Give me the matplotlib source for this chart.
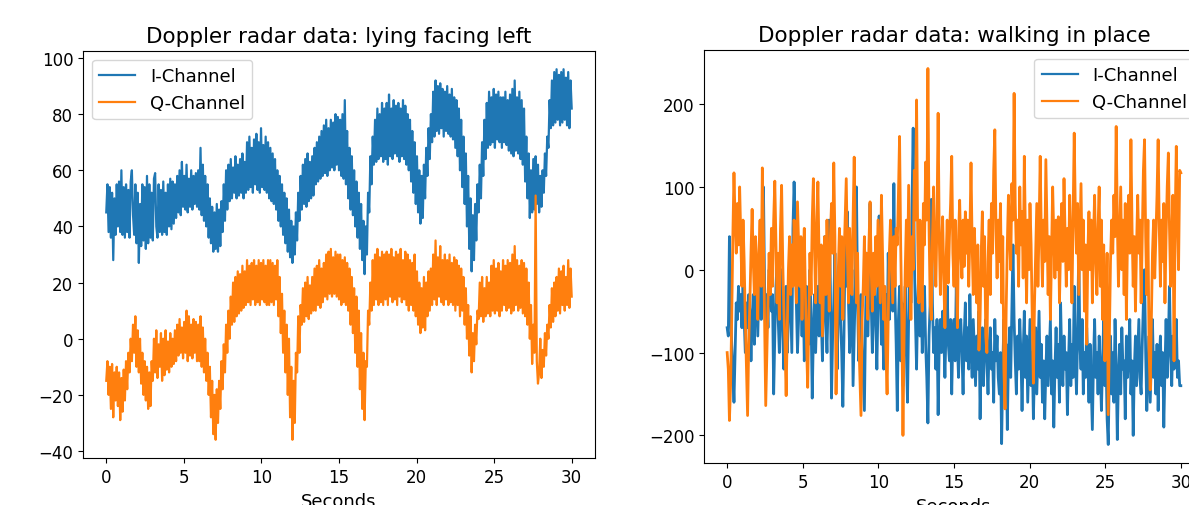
import numpy as np
import matplotlib.pyplot as plt

# ---*** DATA ***---
# left panel: lying facing left, one value every 0.075 s (rows = 1.5 s)
lyingI = [45, 55, 38, 54, 36, 52, 28, 50, 37, 55, 40, 56, 38, 60, 37, 54, 36, 55, 38, 53,
          36, 56, 60, 44, 37, 55, 34, 52, 27, 48, 33, 55, 35, 54, 32, 58, 34, 55, 36, 52,
          35, 57, 59, 40, 36, 55, 38, 53, 37, 56, 38, 52, 37, 55, 40, 57, 39, 56, 41, 55,
          43, 58, 45, 60, 44, 63, 47, 58, 46, 62, 45, 57, 47, 60, 46, 58, 48, 59, 47, 60,
          46, 68, 44, 62, 42, 58, 40, 55, 36, 50, 34, 47, 31, 45, 32, 48, 31, 46, 33, 49,
          38, 55, 42, 60, 46, 62, 49, 64, 50, 61, 52, 65, 50, 62, 51, 64, 52, 66, 50, 63,
          52, 70, 53, 72, 54, 68, 52, 71, 55, 73, 53, 70, 52, 75, 54, 69, 53, 72, 52, 70,
          50, 68, 49, 66, 48, 64, 46, 60, 42, 58, 40, 55, 37, 52, 34, 50, 31, 46, 29, 42,
          27, 40, 30, 45, 35, 52, 42, 58, 46, 62, 48, 64, 47, 66, 49, 63, 50, 65, 51, 68,
          55, 70, 56, 72, 57, 74, 58, 76, 59, 78, 58, 75, 60, 78, 61, 77, 60, 80, 62, 79,
          60, 78, 58, 80, 57, 85, 55, 74, 50, 68, 46, 65, 44, 60, 40, 56, 36, 52, 32, 48,
          28, 42, 23, 40, 30, 52, 45, 65, 55, 72, 62, 78, 63, 82, 64, 80, 65, 84, 63, 82,
          64, 84, 62, 87, 65, 82, 64, 85, 66, 83, 65, 84, 63, 82, 65, 85, 64, 83, 62, 80,
          60, 78, 56, 74, 52, 70, 48, 65, 45, 60, 41, 58, 43, 62, 50, 68, 58, 75, 64, 80,
          70, 88, 72, 92, 74, 90, 73, 91, 75, 89, 72, 88, 74, 90, 73, 87, 72, 89, 71, 86,
          68, 85, 65, 82, 60, 78, 54, 72, 48, 66, 40, 58, 32, 50, 24, 44, 28, 48, 35, 55,
          45, 62, 50, 70, 58, 78, 64, 84, 68, 88, 69, 86, 70, 89, 68, 87, 71, 88, 70, 86,
          68, 86, 70, 88, 69, 85, 67, 87, 66, 89, 65, 92, 67, 86, 66, 88, 64, 85, 62, 82,
          56, 72, 50, 66, 43, 60, 45, 64, 46, 65, 48, 62, 45, 58, 47, 60, 52, 66, 58, 72,
          68, 85, 75, 92, 76, 95, 77, 96, 78, 94, 76, 95, 77, 96, 78, 93, 76, 95, 75, 92,
          82]
lyingQ = [-15, -8, -20, -10, -25, -9, -28, -12, -22, -10, -24, -12, -29, -14, -26, -11, -22, -8, -18, -5,
          -12, 0, -8, 5, -5, 8, -10, 3, -12, 0, -16, -5, -20, -8, -22, -10, -25, -12, -24, -8,
          -15, 0, -12, 3, -14, -2, -10, 2, -15, 0, -13, 3, -11, -1, -12, 2, -10, 0, -9, 3,
          -8, 5, -6, 7, -5, 4, -7, 6, -5, 10, -8, 8, -6, 5, -7, 7, -5, 6, -8, 5,
          -8, 8, -10, 4, -12, 0, -15, -5, -20, -10, -28, -15, -34, -20, -36, -18, -30, -15, -25, -8,
          -18, -2, -12, 5, -5, 10, 0, 15, 5, 20, 6, 22, 8, 24, 9, 23, 10, 26, 11, 24,
          12, 28, 13, 26, 12, 27, 14, 28, 12, 26, 13, 28, 12, 27, 14, 28, 13, 26, 12, 28,
          12, 28, 13, 27, 12, 26, 14, 28, 8, 22, 2, 16, -5, 10, -12, 5, -20, 0, -28, -10,
          -36, -15, -30, -5, -12, 8, -5, 12, 5, 18, 6, 20, 8, 22, 7, 19, 9, 22, 10, 25,
          10, 26, 12, 28, 11, 25, 13, 27, 15, 30, 14, 31, 16, 32, 15, 29, 16, 31, 15, 30,
          14, 30, 12, 28, 13, 29, 12, 27, 10, 25, 5, 22, 2, 18, -5, 15, -10, 10, -18, 2,
          -25, -5, -29, -8, -10, 10, 5, 20, 10, 28, 12, 30, 14, 32, 12, 29, 13, 31, 12, 30,
          14, 31, 12, 30, 15, 32, 13, 29, 14, 31, 12, 30, 15, 32, 13, 28, 14, 31, 12, 30,
          10, 28, 12, 27, 10, 30, 8, 24, 5, 20, 2, 18, 4, 22, 3, 20, 8, 24, 10, 25,
          12, 30, 14, 35, 12, 29, 15, 33, 13, 28, 12, 30, 14, 28, 12, 30, 13, 27, 12, 29,
          10, 28, 12, 26, 8, 25, 10, 22, 5, 18, 0, 12, -6, 8, -12, 2, -8, 5, -2, 10,
          7, 20, 8, 22, 6, 18, 8, 22, 9, 20, 8, 26, 10, 28, 9, 25, 10, 27, 8, 24,
          10, 28, 12, 26, 10, 28, 11, 27, 9, 30, 10, 33, 12, 28, 10, 26, 11, 28, 9, 27,
          8, 25, 5, 20, 0, 12, -9, 5, -5, 51, -8, -16, -12, 0, -14, -4, -10, 2, -6, 5,
          0, 12, 4, 18, 6, 20, 8, 22, 10, 25, 9, 24, 12, 26, 10, 22, 12, 28, 11, 25,
          15]

# right panel: walking in place, one value every 0.075 s (rows = 1.5 s)
walkI = [-70, -80, 40, -40, -90, -120, -160, -100, -40, -60, -20, -50, -30, -70, -20, -60, -100, -40, -70, -30,
         -50, -110, -60, -30, -90, 0, -40, -80, -20, 20, -60, 50, 100, -20, -80, -30, -70, 0, -20, -50,
         -30, -150, -80, -20, 10, -60, -100, -40, 0, -80, -120, -60, -20, -100, -60, 20, -40, -100, 50, 106,
         60, -40, -100, -60, 10, -30, -80, -20, -110, -60, -20, -40, -90, 0, -60, -155, -80, -30, -100, -50,
         -20, -80, 20, -60, -110, -30, 40, -60, -100, -40, 60, -20, -155, -80, -40, 20, -60, -120, -40, 10,
         -60, -100, -165, -80, 40, -20, 70, -40, -100, -60, 0, -140, -80, -20, 100, -40, -110, -60, -30, -90,
         -130, -170, -60, 20, -80, -30, 80, -40, -100, -50, 0, -60, -120, -40, 65, -20, -90, -50, -120, -60,
         -30, -100, 20, -60, -20, 40, -50, 104, -30, -90, -170, -60, -20, -110, -40, -140, -80, -20, -100, -160,
         -60, 20, -40, 80, 171, 20, -60, -120, -40, 0, -80, -30, -100, -50, -20, -90, -130, -185, -80, -40,
         85, -40, -100, -70, -120, -60, -175, -90, -60, -100, -50, -80, -130, -70, -20, -90, -110, -60, -150, -80,
         -60, -110, -20, -90, -130, -70, -60, -100, -150, -80, -40, -110, -70, -120, -30, -90, -130, -60, -100, -140,
         -80, -120, -50, -180, -100, -70, -140, -90, -60, -110, -150, -90, -70, -120, -100, -160, -60, -110, -80, -130,
         -150, -100, -210, -120, -60, -140, -90, -193, -110, -70, -130, -50, 30, -60, -110, -150, -80, -120, -60, -100,
         -170, -100, -50, -130, -80, -160, -110, -60, -140, -100, -180, -120, -70, -150, -100, -50, -130, -90, -160, -110,
         -180, -120, -80, -140, -100, -60, -150, -110, -190, -120, -70, -130, -90, -160, -40, -110, -140, -80, -120, -100,
         -175, -110, -60, -140, -90, -130, -20, -100, -150, -80, 30, -90, -120, -60, -150, -100, -130, -70, -110, -160,
         -90, -140, -193, -110, -60, -130, -100, -150, -80, -120, -170, -110, -60, -140, -100, -180, -211, -120, -80, -150,
         -100, -160, -60, -120, -205, -130, -90, -150, -70, -120, -110, -180, -80, -130, -100, -60, -150, -110, -200, -120,
         -80, -140, -100, -60, -130, -150, -90, -40, 0, -100, -170, -120, -80, -160, -110, -60, -130, -100, -150, -90,
         -170, -110, -80, -140, -100, -190, -120, -60, -130, -90, -20, -100, -140, -80, -120, -100, -60, -130, -110, -140,
         -140]
walkQ = [-100, -120, -182, -140, -60, 40, 117, 60, 20, 80, 30, 100, 40, -20, 60, 10, -60, -120, -176, -90,
         -40, 20, 73, 10, -30, 40, 0, -60, 20, 60, -20, 123, 40, -60, -164, -100, -40, 20, -30, 50,
         -20, 60, 107, 30, -40, 20, -60, 50, 102, 10, -50, -90, -152, -70, 0, 40, -30, 30, -20, 60,
         20, -40, 82, 30, -20, 40, -60, 10, 50, -30, -90, -142, -60, 20, -30, 60, 110, 30, -40, 50,
         106, 20, -40, 30, -80, -20, 40, -30, 60, 0, -50, 40, 80, 20, 129, 40, -150, -60, 0, 50,
         -20, 40, -60, 10, 60, 110, 20, -40, 50, 0, -30, 60, 136, 30, -40, 20, -80, -130, -176, -60,
         -20, 40, -30, 20, -60, 30, 82, 0, -50, 20, -30, 40, -20, 60, 10, -40, 90, 20, -60, -20,
         -100, -150, -60, 20, 60, 10, -40, 40, -20, 50, 30, 90, 161, 30, -60, -200, -80, 0, 60, -20,
         102, 20, -60, 40, 0, 120, 60, 205, 40, -40, 60, 0, -50, 80, 30, 130, 60, 243, 50, -40,
         -60, 40, 100, 20, -20, 60, 189, 40, -30, 30, 64, -10, -70, 10, 60, -16, 40, 80, 137, 20,
         -20, 60, 10, -70, 40, 84, 20, -10, 60, 4, 70, 20, 60, -20, 40, 129, 30, -30, 50, 0,
         -40, 30, -97, -60, 20, 70, -20, 40, -80, -100, 10, 60, -30, 80, 20, 120, 169, 50, -10, 60,
         10, 80, -40, 40, -120, -168, -50, 30, 90, 40, 0, 104, 60, 213, 80, 20, 60, -20, 100, 30,
         70, -10, 137, 40, -40, 60, 0, 80, 30, -60, -137, -40, 20, 80, -20, 50, 137, 40, -20, 60,
         10, 133, 50, -30, 40, -60, 20, 100, 40, -10, 60, 0, 64, -40, 30, 80, 10, 110, 40, -20,
         50, 0, 90, 30, -40, 60, 165, 70, 20, 80, -30, 40, 104, 0, 60, -50, 30, -90, 20, 70,
         0, 60, -40, 40, 90, 10, -30, 50, 100, -20, 60, -60, 30, -110, -60, 20, -175, -80, 10, 60,
         20, 90, 40, 173, 60, -20, 40, 100, 0, 60, -30, 80, -60, 40, 90, 20, 157, 50, -20, 40,
         -50, 30, 90, 20, 60, -40, 40, 120, 157, 40, -30, 60, -100, -145, -60, 20, 60, -10, 40, 90,
         157, 50, -20, 60, 10, 80, -40, 40, 100, 141, 50, -20, 40, 90, -110, 60, 149, 60, 0, 120,
         117]

labels = ["I-Channel", "Q-Channel"]
titles = ["Doppler radar data: lying facing left", "Doppler radar data: walking in place"]

# ---*** PLOT ***---
plt.rcParams['font.size'] = 12
fig = plt.figure(figsize=(11.89, 5.06), dpi=100)
ax1 = fig.add_axes([0.0698, 0.0923, 0.4306, 0.8055])
ax2 = fig.add_axes([0.5925, 0.0824, 0.4197, 0.8174])

t1 = np.linspace(0, 30, len(lyingI))
ax1.plot(t1, lyingI, label=labels[0], lw=1.6)
ax1.plot(t1, lyingQ, label=labels[1], lw=1.6)
ax1.set_title(titles[0], fontsize=15.5)
ax1.set_xlabel("Seconds", fontsize=13)
ax1.legend(loc="upper left", fontsize=13)

# walking data is much busier, a slightly heavier line fills the band like the original
t2 = np.linspace(0, 30, len(walkI))
ax2.plot(t2, walkI, label=labels[0], lw=2.0)
ax2.plot(t2, walkQ, label=labels[1], lw=2.0)
ax2.set_title(titles[1], fontsize=15.5)
ax2.set_xlabel("Seconds", fontsize=13)
leg = ax2.legend(loc="upper right", fontsize=13)
for line in leg.get_lines():
    line.set_linewidth(1.6)

for ax in [ax1, ax2]:
    ax.set_xticks([0, 5, 10, 15, 20, 25, 30])

fig.savefig("out.png", dpi=100)
